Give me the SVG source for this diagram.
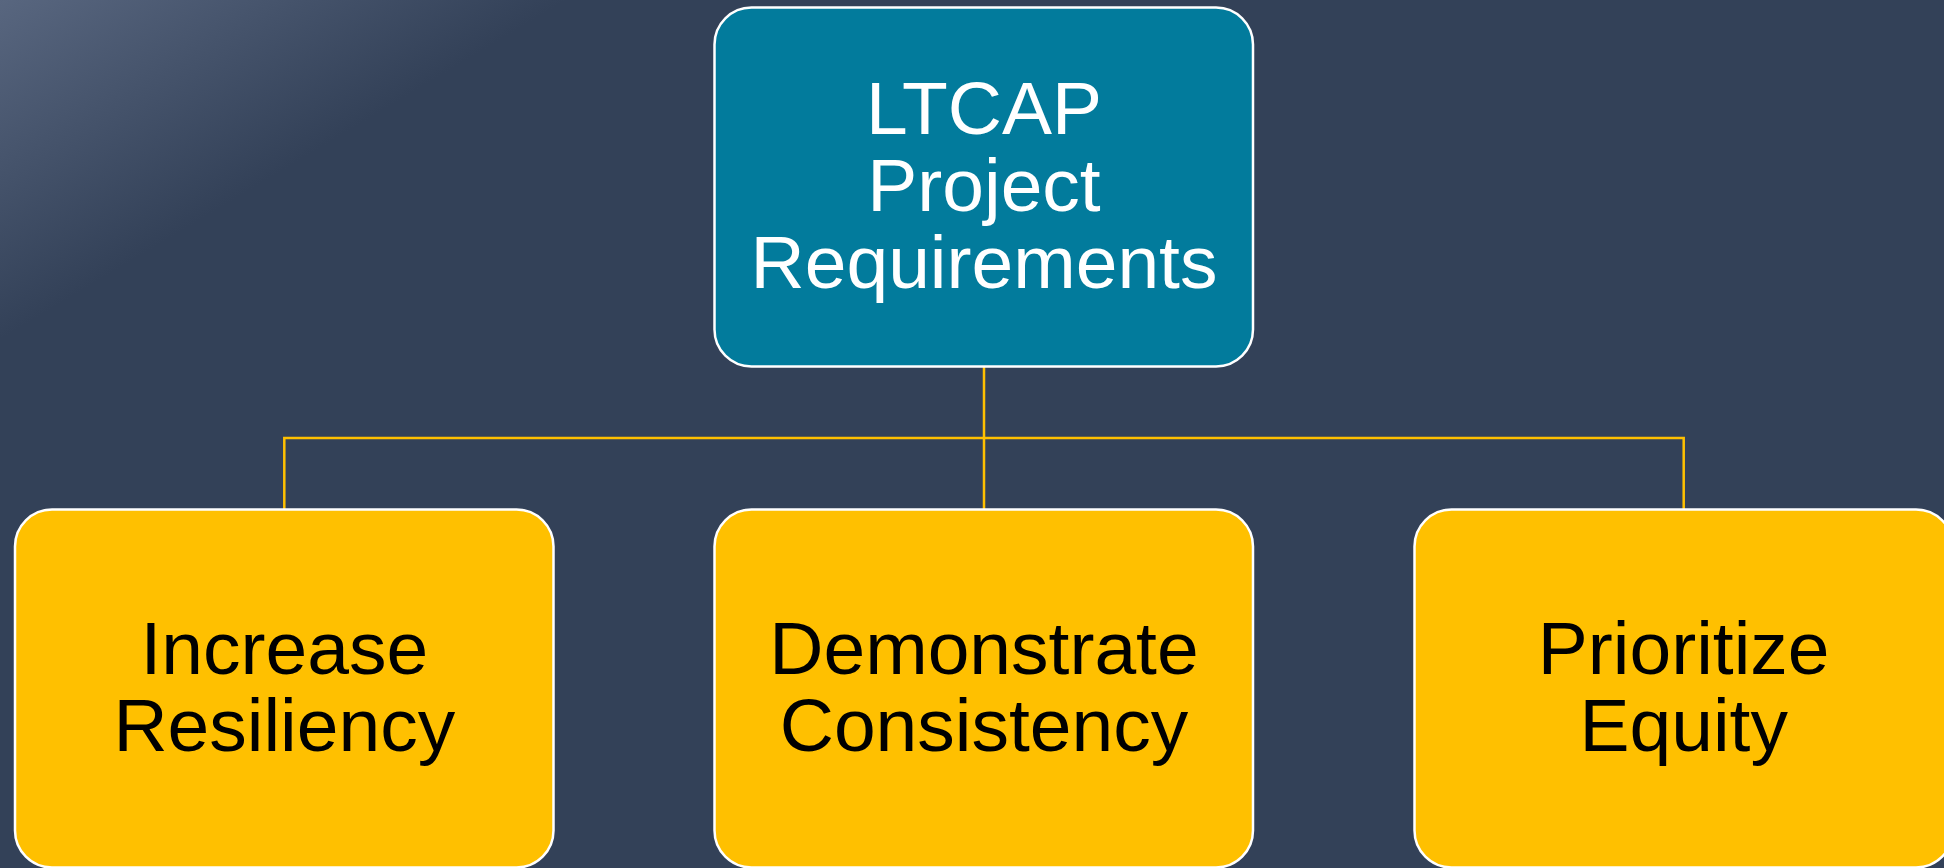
<svg xmlns="http://www.w3.org/2000/svg" width="1944" height="868" viewBox="0 0 1944 868">
<defs>
<linearGradient id="bg" gradientUnits="userSpaceOnUse" x1="0" y1="0" x2="150" y2="250">
<stop offset="0" stop-color="#58667f"/>
<stop offset="1" stop-color="#334158"/>
</linearGradient>
<style>
.box{stroke:#ffffff;stroke-width:2.5}
.top{fill:#027b9c}
.sub{fill:#ffc000}
.conn{fill:none;stroke:#ffc000;stroke-width:2.5}
.t{font-family:"Liberation Sans",Arial,sans-serif;font-size:75px;text-anchor:middle}
.tw{fill:#ffffff}
.tb{fill:#000000}
</style>
</defs>
<rect x="0" y="0" width="1944" height="868" fill="#334158"/>
<rect x="0" y="0" width="1944" height="868" fill="url(#bg)"/>
<g id="connectors">
<path class="conn" d="M984,366.5 V509 M284.3,509 V438 H1683.7 V509"/>
</g>
<g id="node-root">
<rect class="box top" x="714.5" y="7.5" width="538.5" height="359" rx="37" ry="37"/>
<text class="t tw" x="984" y="134">LTCAP</text>
<text class="t tw" x="984" y="211">Project</text>
<text class="t tw" x="984" y="288">Requirements</text>
</g>
<g id="node-resiliency">
<rect class="box sub" x="15" y="509.5" width="538.5" height="358" rx="37" ry="37"/>
<text class="t tb" x="284.3" y="674">Increase</text>
<text class="t tb" x="284.3" y="751">Resiliency</text>
</g>
<g id="node-consistency">
<rect class="box sub" x="714.5" y="509.5" width="538.5" height="358" rx="37" ry="37"/>
<text class="t tb" x="984" y="674">Demonstrate</text>
<text class="t tb" x="984" y="751">Consistency</text>
</g>
<g id="node-equity">
<rect class="box sub" x="1414.5" y="509.5" width="538.5" height="358" rx="37" ry="37"/>
<text class="t tb" x="1683.7" y="674">Prioritize</text>
<text class="t tb" x="1683.7" y="751">Equity</text>
</g>
</svg>
